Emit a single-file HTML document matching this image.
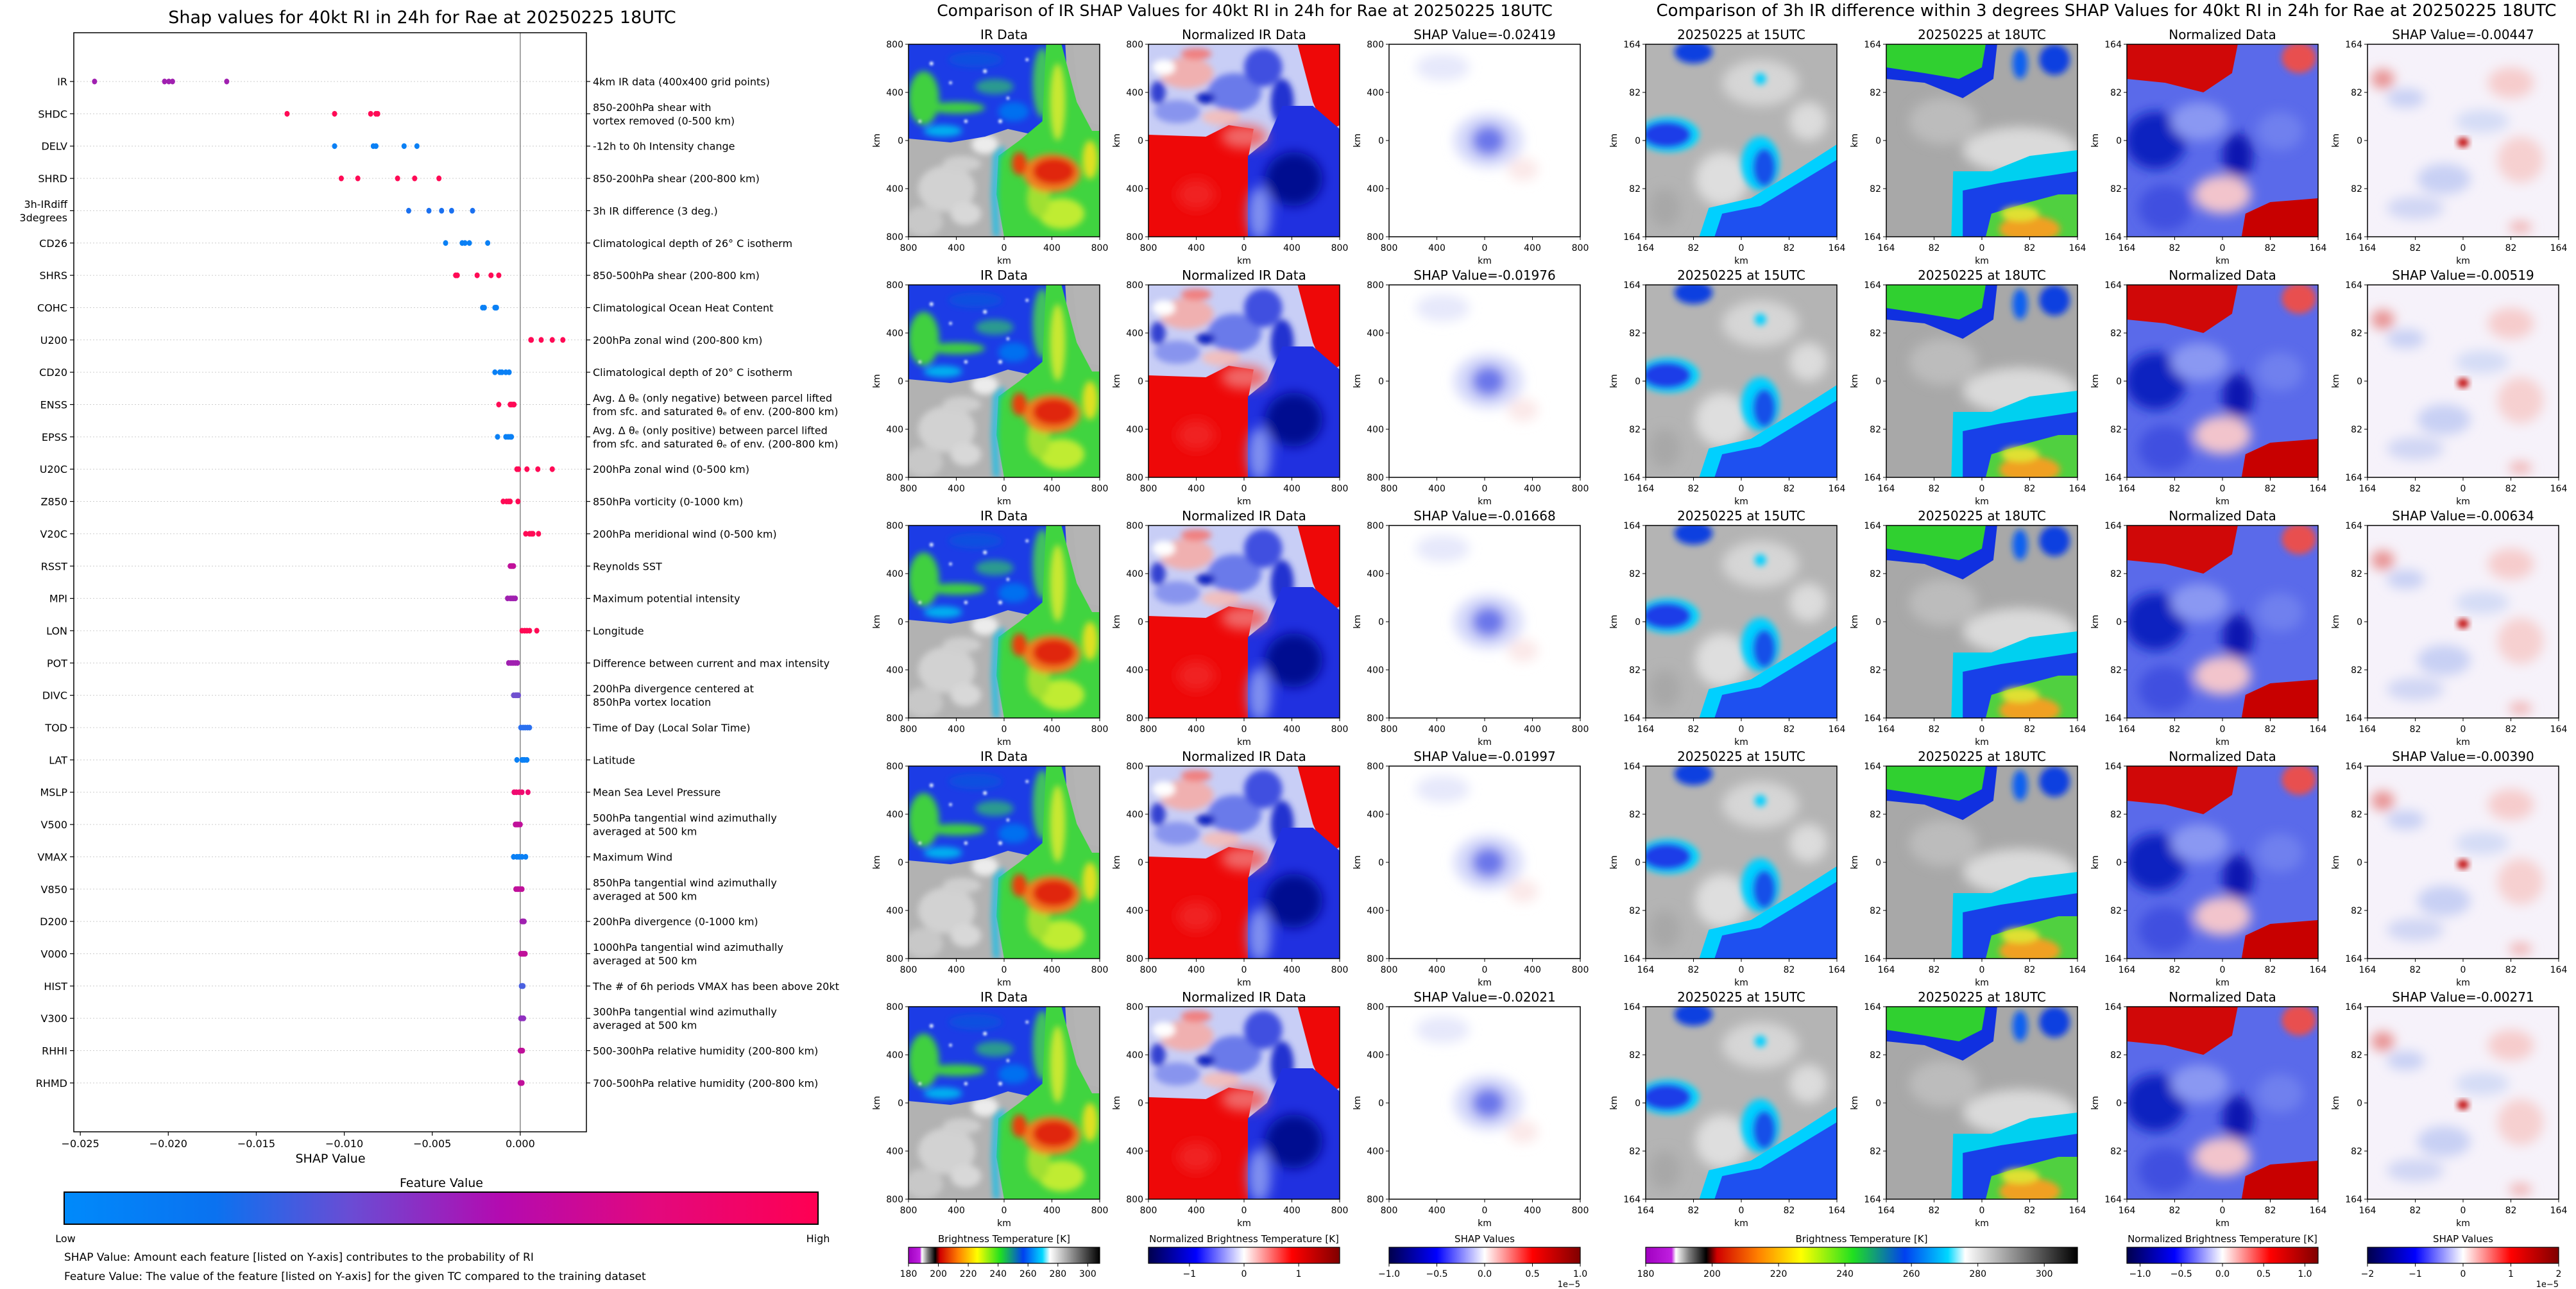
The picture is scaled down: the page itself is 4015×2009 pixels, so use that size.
<!DOCTYPE html>
<html><head><meta charset="utf-8">
<style>
html,body{margin:0;padding:0;background:#fff;}
svg{display:block;font-family:"DejaVu Sans","Liberation Sans",sans-serif;}
</style></head>
<body>
<svg id="chart" xmlns="http://www.w3.org/2000/svg" width="4015" height="2009" viewBox="0 0 4015 2009">
<defs>
<filter id="bl" x="-30%" y="-30%" width="160%" height="160%"><feGaussianBlur stdDeviation="1.6"/></filter>
<filter id="bl2" x="-30%" y="-30%" width="160%" height="160%"><feGaussianBlur stdDeviation="3"/></filter>
<filter id="bl0" x="-30%" y="-30%" width="160%" height="160%"><feGaussianBlur stdDeviation="0.6"/></filter>
<linearGradient id="gFeat" x1="0" x2="1" y1="0" y2="0">
<stop offset="0" stop-color="#008afb"/><stop offset="0.2" stop-color="#0a72f0"/><stop offset="0.38" stop-color="#6a4cd4"/><stop offset="0.58" stop-color="#b40ab0"/><stop offset="0.78" stop-color="#e2087e"/><stop offset="1" stop-color="#ff0052"/>
</linearGradient>
<linearGradient id="gIR" x1="0" x2="1" y1="0" y2="0">
<stop offset="0" stop-color="#a000c0"/><stop offset="0.06" stop-color="#c020e0"/><stop offset="0.07" stop-color="#ffffff"/><stop offset="0.1" stop-color="#808080"/><stop offset="0.14" stop-color="#000000"/><stop offset="0.165" stop-color="#d00000"/><stop offset="0.26" stop-color="#ff8000"/><stop offset="0.36" stop-color="#ffff00"/><stop offset="0.48" stop-color="#20e020"/><stop offset="0.6" stop-color="#0040f0"/><stop offset="0.7" stop-color="#00d8ff"/><stop offset="0.74" stop-color="#ffffff"/><stop offset="1" stop-color="#000000"/>
</linearGradient>
<linearGradient id="gSeis" x1="0" x2="1" y1="0" y2="0">
<stop offset="0" stop-color="#00004c"/><stop offset="0.25" stop-color="#0000ff"/><stop offset="0.5" stop-color="#ffffff"/><stop offset="0.75" stop-color="#ff0000"/><stop offset="1" stop-color="#800000"/>
</linearGradient>
</defs>
</svg>
<script>
// ---------- data ----------
const features=['IR','SHDC','DELV','SHRD','3h-IRdiff\n3degrees','CD26','SHRS','COHC','U200','CD20','ENSS','EPSS','U20C','Z850','V20C','RSST','MPI','LON','POT','DIVC','TOD','LAT','MSLP','V500','VMAX','V850','D200','V000','HIST','V300','RHHI','RHMD'];
const descriptions=['4km IR data (400x400 grid points)','850-200hPa shear with\nvortex removed (0-500 km)','-12h to 0h Intensity change','850-200hPa shear (200-800 km)','3h IR difference (3 deg.)','Climatological depth of 26° C isotherm','850-500hPa shear (200-800 km)','Climatological Ocean Heat Content','200hPa zonal wind (200-800 km)','Climatological depth of 20° C isotherm','Avg. Δ θₑ (only negative) between parcel lifted\nfrom sfc. and saturated θₑ of env. (200-800 km)','Avg. Δ θₑ (only positive) between parcel lifted\nfrom sfc. and saturated θₑ of env. (200-800 km)','200hPa zonal wind (0-500 km)','850hPa vorticity (0-1000 km)','200hPa meridional wind (0-500 km)','Reynolds SST','Maximum potential intensity','Longitude','Difference between current and max intensity','200hPa divergence centered at\n850hPa vortex location','Time of Day (Local Solar Time)','Latitude','Mean Sea Level Pressure','500hPa tangential wind azimuthally\naveraged at 500 km','Maximum Wind','850hPa tangential wind azimuthally\naveraged at 500 km','200hPa divergence (0-1000 km)','1000hPa tangential wind azimuthally\naveraged at 500 km','The # of 6h periods VMAX has been above 20kt','300hPa tangential wind azimuthally\naveraged at 500 km','500-300hPa relative humidity (200-800 km)','700-500hPa relative humidity (200-800 km)'];
const shapValues=[
[-0.02419,-0.01976,-0.01668,-0.01997,-0.02021],
[-0.01325,-0.01055,-0.0085,-0.0081,-0.0082],
[-0.01055,-0.00835,-0.0082,-0.0066,-0.00587],
[-0.01017,-0.00923,-0.00697,-0.006,-0.00462],
[-0.00447,-0.00519,-0.00634,-0.0039,-0.00271],
[-0.00424,-0.0033,-0.00314,-0.00289,-0.00185],
[-0.00367,-0.00358,-0.00245,-0.00166,-0.00122],
[-0.00214,-0.00204,-0.00144,-0.00135,-0.0014],
[0.0006,0.00119,0.00182,0.00242,0.00063],
[-0.00144,-0.00116,-0.00104,-0.00082,-0.00063],
[-0.00122,-0.00057,-0.0005,-0.0004,-0.00035],
[-0.00129,-0.00082,-0.00069,-0.00057,-0.0005],
[-0.00019,-0.0001,0.00038,0.001,0.00182],
[-0.00097,-0.00078,-0.00066,-0.00057,-0.00013],
[0.00031,0.00053,0.00063,0.00072,0.00104],
[-0.00057,-0.0005,-0.00047,-0.00041,-0.00038],
[-0.00072,-0.00057,-0.00047,-0.00038,-0.00028],
[0.0001,0.00025,0.00038,0.00053,0.00094],
[-0.00066,-0.00053,-0.00041,-0.00028,-0.00016],
[-0.00038,-0.00028,-0.00022,-0.00016,-0.0001],
[0.00003,0.00016,0.00028,0.00041,0.00053],
[-0.00019,0.0001,0.00016,0.00025,0.00038],
[-0.00035,-0.00022,-0.00006,0.0001,0.00044],
[-0.00028,-0.00022,-0.00016,-0.0001,0],
[-0.00038,-0.00019,-0.00006,0.0001,0.00031],
[-0.00025,-0.00016,-0.0001,0,0.0001],
[0.0001,0.00013,0.00016,0.00019,0.00022],
[0.00003,0.0001,0.00016,0.00022,0.00028],
[0.00006,0.0001,0.00013,0.00013,0.00016],
[0.00003,0.00006,0.0001,0.00016,0.00019],
[0,0.00003,0.00006,0.0001,0.00013],
[0,0.00003,0.00006,0.0001,0.0001]
];
const featureColors=['#a020b0','#ff0a55','#0a80f5','#ff0a55','#1a70f0','#0a80f5','#ff0a55','#0a80f5','#ff0a55','#0a80f5','#ff0a55','#0a80f5','#ff0a55','#ff0a55','#ff0a55','#c0109a','#a020b0','#ff0a55','#a020b0','#7050d0','#2a70f0','#0a80f5','#f00a70','#c0109a','#0a80f5','#c0109a','#a020b0','#c0109a','#4a60e0','#9030c0','#c0109a','#c0109a'];
const xTicks=[-0.025,-0.02,-0.015,-0.01,-0.005,0];
const xTickLabels=['\u22120.025','\u22120.020','\u22120.015','\u22120.010','\u22120.005','0.000'];
const irShap=[-0.02419,-0.01976,-0.01668,-0.01997,-0.02021];
const diffShap=[-0.00447,-0.00519,-0.00634,-0.00390,-0.00271];
const irTickLabels=['800','400','0','400','800'];
const diffTickLabels=['164','82','0','82','164'];
const cbBT=[180,200,220,240,260,280,300];
const cbNorm=[-1,0,1];
const cbShapIR=['\u22121.0','\u22120.5','0.0','0.5','1.0'];
const cbNorm2=['\u22121.0','\u22120.5','0.0','0.5','1.0'];
const cbShapDiff=['\u22122','\u22121','0','1','2'];

// ---------- helpers ----------
const NS='http://www.w3.org/2000/svg';
const svg=document.getElementById('chart');
function mk(tag,attrs,parent){const e=document.createElementNS(NS,tag);for(const k in attrs)e.setAttribute(k,attrs[k]);(parent||svg).appendChild(e);return e;}
function txt(str,attrs,parent){const e=mk('text',attrs,parent);e.textContent=str;return e;}

// ---------- left chart ----------
const X0=115,X1=914,Y0=51,Y1=1764,XMIN=-0.02537,XMAX=0.00376;
function xs(v){return X0+(v-XMIN)/(XMAX-XMIN)*(X1-X0);}
function ys(i){return 127+i*50.35;}
const left=mk('g',{});


const t1=txt('Shap values for 40kt RI in 24h for Rae at 20250225 18UTC',{x:658,y:36,'font-size':27,'text-anchor':'middle'},left);


features.forEach((f,i)=>{
  const y=ys(i);
  const gl=mk('line',{x1:X0,x2:X1,y1:y,y2:y,stroke:'#cccccc','stroke-width':1,'stroke-dasharray':'2,3'},left);
  
  
  mk('line',{x1:X0-6,x2:X0,y1:y,y2:y,stroke:'#000','stroke-width':1.2},left);
  mk('line',{x1:X1,x2:X1+6,y1:y,y2:y,stroke:'#000','stroke-width':1.2},left);
  const lines=f.split('\n');
  lines.forEach((ln,k)=>{
    const t=txt(ln,{x:X0-10,y:y+6+(k-(lines.length-1)/2)*21,'font-size':16,'text-anchor':'end'},left);
    
    
  });
  const dl=descriptions[i].split('\n');
  dl.forEach((ln,k)=>{
    const t=txt(ln,{x:X1+10,y:y+6+(k-(dl.length-1)/2)*21,'font-size':16},left);
    
    
  });
});
const zl=mk('line',{x1:xs(0),x2:xs(0),y1:Y0,y2:Y1,stroke:'#888','stroke-width':1.5},left);


shapValues.forEach((vals,i)=>{
  vals.forEach(v=>{
    const c=mk('ellipse',{cx:xs(v),cy:ys(i),rx:4,ry:4.5,fill:featureColors[i]},left);
    
    
  });
});
const fr=mk('rect',{x:X0,y:Y0,width:X1-X0,height:Y1-Y0,fill:'none',stroke:'#000','stroke-width':1.5},left);


xTicks.forEach((v,k)=>{
  mk('line',{x1:xs(v),x2:xs(v),y1:Y1,y2:Y1+6,stroke:'#000','stroke-width':1.2},left);
  const t=txt(xTickLabels[k],{x:xs(v),y:Y1+24,'font-size':16,'text-anchor':'middle'},left);
  
  
});
const xl=txt('SHAP Value',{x:515,y:1812,'font-size':19,'text-anchor':'middle'},left);


const fvt=txt('Feature Value',{x:688,y:1850,'font-size':19,'text-anchor':'middle'},left);


const fcb=mk('rect',{x:100,y:1858,width:1175,height:50,fill:'url(#gFeat)',stroke:'#000','stroke-width':2},left);


const lo=txt('Low',{x:102,y:1936,'font-size':16,'text-anchor':'middle'},left);


const hi=txt('High',{x:1275,y:1936,'font-size':16,'text-anchor':'middle'},left);


const n1=txt('SHAP Value: Amount each feature [listed on Y-axis] contributes to the probability of RI',{x:100,y:1965,'font-size':17},left);


const n2=txt('Feature Value: The value of the feature [listed on Y-axis] for the given TC compared to the training dataset',{x:100,y:1995,'font-size':17},left);



// ---------- images ----------
const IMG={
ir:`<rect width="100" height="100" fill="#b2b2b2"/>
<g filter="url(#bl)"><ellipse cx="20" cy="75" rx="15" ry="12" fill="#d2d2d2"/><ellipse cx="8" cy="92" rx="10" ry="8" fill="#c8c8c8"/><ellipse cx="40" cy="52" rx="7" ry="5" fill="#ececec"/><ellipse cx="28" cy="62" rx="10" ry="4" fill="#cfcfcf"/><ellipse cx="30" cy="88" rx="8" ry="6" fill="#d8d8d8"/></g>
<path d="M0,0 H82 L84,35 L70,48 L52,44 L40,48 L22,51 L0,49 Z" fill="#1c3ce6"/>
<g filter="url(#bl)"><ellipse cx="8" cy="28" rx="8" ry="14" fill="#40d040"/><ellipse cx="25" cy="33" rx="15" ry="3" fill="#40d040"/><ellipse cx="45" cy="22" rx="10" ry="4" fill="#2a9a90"/><ellipse cx="35" cy="8" rx="14" ry="4" fill="#1050e0"/><ellipse cx="70" cy="20" rx="5" ry="18" fill="#40c060"/><ellipse cx="18" cy="45" rx="10" ry="3" fill="#00b0f0"/><ellipse cx="55" cy="35" rx="8" ry="5" fill="#0070f0"/></g>
<g filter="url(#bl0)" fill="#e8f4ff"><circle cx="12" cy="10" r="1"/><circle cx="22" cy="20" r="0.8"/><circle cx="40" cy="14" r="1"/><circle cx="52" cy="28" r="0.8"/><circle cx="30" cy="40" r="0.9"/><circle cx="62" cy="8" r="0.8"/><circle cx="48" cy="40" r="1"/><circle cx="6" cy="40" r="0.8"/></g>
<path d="M86,0 H100 V42 L92,40 L88,20 Z" fill="#b4b4b4"/>
<path d="M72,0 L80,0 L88,30 L96,45 L100,45 V100 L50,100 L46,78 L47,58 L58,50 L70,40 Z" fill="#40d440"/>
<g filter="url(#bl)"><path d="M46,100 L45,78 L46,58 L50,54" stroke="#00c0f0" stroke-width="2.5" fill="none"/><ellipse cx="80" cy="88" rx="12" ry="8" fill="#c0ec30"/><ellipse cx="68" cy="80" rx="6" ry="10" fill="#a0e030"/><ellipse cx="75" cy="67" rx="15" ry="10" fill="#f08020"/><ellipse cx="76" cy="66" rx="11" ry="7" fill="#e02810"/><ellipse cx="58" cy="62" rx="4" ry="6" fill="#e84010"/><ellipse cx="78" cy="30" rx="4" ry="20" fill="#c8e830"/><ellipse cx="95" cy="60" rx="4" ry="10" fill="#e0e020"/></g>`,
norm:`<rect width="100" height="100" fill="#c8cef6"/>
<g filter="url(#bl)"><ellipse cx="20" cy="15" rx="14" ry="8" fill="#f0b0b0"/><ellipse cx="45" cy="25" rx="14" ry="10" fill="#6a7aea"/><ellipse cx="15" cy="35" rx="12" ry="6" fill="#8894ee"/><ellipse cx="30" cy="28" rx="5" ry="3" fill="#1020c0"/><ellipse cx="60" cy="12" rx="10" ry="10" fill="#4050e0"/><ellipse cx="38" cy="38" rx="10" ry="4" fill="#f0c0c0"/><ellipse cx="8" cy="12" rx="6" ry="4" fill="#ffffff"/><ellipse cx="70" cy="30" rx="6" ry="12" fill="#2030d0"/><ellipse cx="25" cy="5" rx="8" ry="3" fill="#f08080"/><ellipse cx="5" cy="25" rx="4" ry="6" fill="#3040d0"/></g>
<path d="M0,47 L30,48 L42,42 L55,44 L52,60 L52,100 L0,100 Z" fill="#ee0808"/>
<path d="M78,0 H100 V42 L93,46 L86,30 Z" fill="#ee0808"/>
<path d="M52,58 L62,50 L70,32 L86,32 L100,44 V100 H52 Z" fill="#2030e0"/>
<g filter="url(#bl2)"><ellipse cx="76" cy="70" rx="15" ry="14" fill="#000a90"/><ellipse cx="58" cy="88" rx="6" ry="14" fill="#8090f0"/><ellipse cx="50" cy="48" rx="12" ry="6" fill="#f06868"/><ellipse cx="25" cy="78" rx="10" ry="8" fill="#f02020"/></g>`,
shapir:`<rect width="100" height="100" fill="#ffffff"/>
<g filter="url(#bl2)"><ellipse cx="52" cy="50" rx="18" ry="14" fill="#d4d8fa"/><ellipse cx="52" cy="50" rx="9" ry="8" fill="#6a76ea"/><ellipse cx="28" cy="12" rx="14" ry="7" fill="#e6e8fb"/><ellipse cx="70" cy="65" rx="8" ry="6" fill="#fbe8e8"/></g>`,
t15:`<rect width="100" height="100" fill="#b4b4b4"/>
<g filter="url(#bl2)"><ellipse cx="60" cy="20" rx="20" ry="12" fill="#d6d6d6"/><ellipse cx="40" cy="70" rx="14" ry="14" fill="#dedede"/><ellipse cx="10" cy="85" rx="8" ry="10" fill="#a8a8a8"/><ellipse cx="85" cy="40" rx="10" ry="10" fill="#dcdcdc"/></g>
<g filter="url(#bl)"><ellipse cx="25" cy="4" rx="10" ry="6" fill="#1040e0"/><ellipse cx="12" cy="47" rx="16" ry="9" fill="#00d8ff"/><ellipse cx="11" cy="47" rx="13" ry="7" fill="#1a3ce8"/><ellipse cx="60" cy="62" rx="10" ry="14" fill="#00d0ff"/><ellipse cx="62" cy="64" rx="6" ry="10" fill="#1850e8"/><ellipse cx="60" cy="18" rx="3" ry="3" fill="#00d0ff"/></g>
<path d="M28,100 L33,85 L55,80 L78,66 L100,52 V100 Z" fill="#00d0ff"/>
<path d="M36,100 L40,88 L60,84 L80,72 L100,60 V100 Z" fill="#1e50f0"/>`,
t18:`<rect width="100" height="100" fill="#a8a8a8"/>
<g filter="url(#bl2)"><ellipse cx="70" cy="55" rx="30" ry="12" fill="#dadada"/><ellipse cx="30" cy="40" rx="18" ry="12" fill="#bcbcbc"/></g>
<path d="M0,0 H58 L56,18 L40,28 L20,20 L0,18 Z" fill="#1030e0"/>
<path d="M0,0 H52 L50,12 L38,18 L20,15 L0,12 Z" fill="#30d030"/>
<g filter="url(#bl)"><ellipse cx="88" cy="8" rx="8" ry="8" fill="#1040e0"/><ellipse cx="70" cy="10" rx="4" ry="8" fill="#1060f0"/></g>
<path d="M34,100 L35,66 L55,66 L75,58 L100,55 V100 Z" fill="#00d0f0"/>
<path d="M40,100 L40,76 L60,72 L100,66 V100 Z" fill="#1840e8"/>
<path d="M52,100 L55,88 L75,82 L90,78 L100,78 V100 Z" fill="#50d040"/>
<g filter="url(#bl)"><ellipse cx="75" cy="96" rx="16" ry="7" fill="#f0a020"/><ellipse cx="70" cy="88" rx="10" ry="4" fill="#e0e030"/></g>`,
norm2:`<rect width="100" height="100" fill="#5a6aea"/>
<g filter="url(#bl2)"><ellipse cx="15" cy="50" rx="16" ry="15" fill="#1020c0"/><ellipse cx="58" cy="58" rx="8" ry="12" fill="#0818b0"/><ellipse cx="38" cy="40" rx="15" ry="10" fill="#8a98f2"/><ellipse cx="80" cy="45" rx="12" ry="10" fill="#7080ee"/><ellipse cx="50" cy="78" rx="15" ry="10" fill="#f2c4cc"/><ellipse cx="20" cy="85" rx="14" ry="12" fill="#4050e0"/></g>
<path d="M0,0 H58 L55,15 L40,25 L20,20 L0,18 Z" fill="#d00808"/>
<g filter="url(#bl)"><ellipse cx="90" cy="7" rx="9" ry="8" fill="#e85050"/></g>
<path d="M60,100 L62,88 L75,82 L100,80 V100 Z" fill="#c80000"/>`,
shapdiff:`<rect width="100" height="100" fill="#f6f2fa"/>
<g filter="url(#bl2)"><ellipse cx="8" cy="18" rx="6" ry="5" fill="#e89090"/><ellipse cx="20" cy="28" rx="10" ry="5" fill="#c8d0f4"/><ellipse cx="75" cy="20" rx="12" ry="8" fill="#f6cccc"/><ellipse cx="40" cy="70" rx="14" ry="8" fill="#c8d0f4"/><ellipse cx="80" cy="60" rx="12" ry="12" fill="#f6d0d0"/><ellipse cx="25" cy="85" rx="15" ry="6" fill="#d0d6f4"/><ellipse cx="60" cy="40" rx="14" ry="6" fill="#d4dcf6"/><ellipse cx="80" cy="95" rx="6" ry="3" fill="#f0b0b0"/></g>
<ellipse cx="50" cy="51" rx="3" ry="2.4" fill="#c00000" filter="url(#bl)"/>`
};

// panel geometry
const ROW_Y=[69,444,819,1194,1569];
const PW=298,PH=300;
const midCols=[1416,1790,2165];
const rightCols=[2565,2940,3315,3690];
function panel(x,y,imgKey,title,ticks,name){
  const g=mk('g',{});
  
  
  const s=mk('svg',{x:x,y:y,width:PW,height:PH,viewBox:'0 0 100 100',preserveAspectRatio:'none'},g);
  s.innerHTML=IMG[imgKey];
  mk('rect',{x:x,y:y,width:PW,height:PH,fill:'none',stroke:'#000','stroke-width':1.5},g);
  const tt=txt(title,{x:x+PW/2,y:y-8,'font-size':20,'text-anchor':'middle'},g);
  
  
  ticks.forEach((lab,k)=>{
    const py=y+k*PH/4, px=x+k*PW/4;
    mk('line',{x1:x-5,x2:x,y1:py,y2:py,stroke:'#000','stroke-width':1},g);
    const yl=txt(lab,{x:x-8,y:py+5,'font-size':14,'text-anchor':'end'},g);
    
    
    mk('line',{x1:px,x2:px,y1:y+PH,y2:y+PH+5,stroke:'#000','stroke-width':1},g);
    const xlab=txt(lab,{x:px,y:y+PH+22,'font-size':14,'text-anchor':'middle'},g);
    
    
  });
  const kx=txt('km',{x:x+PW/2,y:y+PH+42,'font-size':14,'text-anchor':'middle'},g);
  
  
  const ky=txt('km',{x:0,y:0,'font-size':14,'text-anchor':'middle',transform:`translate(${x-45},${y+PH/2}) rotate(-90)`},g);
  
  
}
const st1=txt('Comparison of IR SHAP Values for 40kt RI in 24h for Rae at 20250225 18UTC',{x:1940,y:25,'font-size':25,'text-anchor':'middle'});


const st2=txt('Comparison of 3h IR difference within 3 degrees SHAP Values for 40kt RI in 24h for Rae at 20250225 18UTC',{x:3283,y:25,'font-size':26,'text-anchor':'middle'});


ROW_Y.forEach((y,r)=>{
  panel(midCols[0],y,'ir','IR Data',irTickLabels,'ir-data-panel');
  panel(midCols[1],y,'norm','Normalized IR Data',irTickLabels,'normalized-ir-panel');
  panel(midCols[2],y,'shapir','SHAP Value='+irShap[r].toFixed(5),irTickLabels,'ir-shap-panel');
  panel(rightCols[0],y,'t15','20250225 at 15UTC',diffTickLabels,'ir-15utc-panel');
  panel(rightCols[1],y,'t18','20250225 at 18UTC',diffTickLabels,'ir-18utc-panel');
  panel(rightCols[2],y,'norm2','Normalized Data',diffTickLabels,'normalized-diff-panel');
  panel(rightCols[3],y,'shapdiff','SHAP Value='+diffShap[r].toFixed(5),diffTickLabels,'diff-shap-panel');
});

// colorbars
function colorbar(x,w,grad,title,labels,vmin,vmax,vals,name,exp){
  const g=mk('g',{});
  
  
  const t=txt(title,{x:x+w/2,y:1936,'font-size':15,'text-anchor':'middle'},g);
  
  
  mk('rect',{x:x,y:1944,width:w,height:25,fill:'url(#'+grad+')',stroke:'#000','stroke-width':1.2},g);
  labels.forEach((lab,k)=>{
    const px=x+(vals[k]-vmin)/(vmax-vmin)*w;
    mk('line',{x1:px,x2:px,y1:1969,y2:1974,stroke:'#000','stroke-width':1},g);
    const tl=txt(lab,{x:px,y:1990,'font-size':14,'text-anchor':'middle'},g);
    
    
  });
  if(exp){const e=txt('1e\u22125',{x:x+w,y:2006,'font-size':13,'text-anchor':'end'},g);
    
    }
}
colorbar(1416,298,'gIR','Brightness Temperature [K]',cbBT.map(String),180,308,cbBT,'ir-colorbar',false);
colorbar(1790,298,'gSeis','Normalized Brightness Temperature [K]',cbNorm.map(v=>v<0?'\u22121':String(v)),-1.75,1.75,cbNorm,'normalized-ir-colorbar',false);
colorbar(2165,298,'gSeis','SHAP Values',cbShapIR,-1,1,[-1,-0.5,0,0.5,1],'ir-shap-colorbar',true);
colorbar(2565,673,'gIR','Brightness Temperature [K]',cbBT.map(String),180,310,cbBT,'ir-diff-colorbar',false);
colorbar(3315,298,'gSeis','Normalized Brightness Temperature [K]',cbNorm2,-1.16,1.16,[-1,-0.5,0,0.5,1],'normalized-diff-colorbar',false);
colorbar(3690,298,'gSeis','SHAP Values',cbShapDiff,-2,2,[-2,-1,0,1,2],'diff-shap-colorbar',true);
</script>
</body></html>
